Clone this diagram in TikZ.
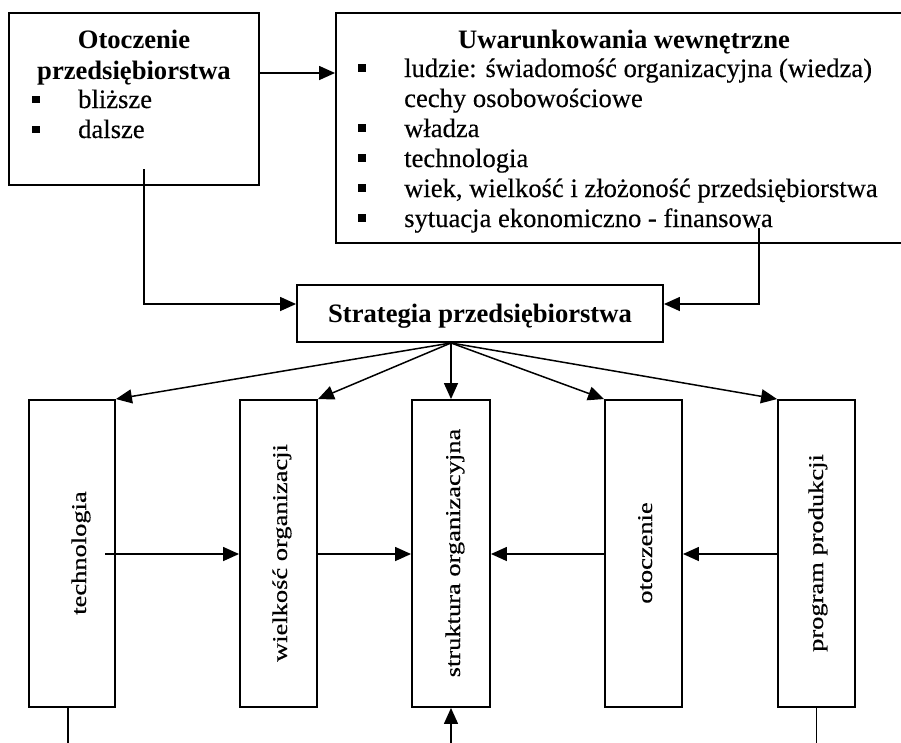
\documentclass[tikz,border=0pt]{standalone}
\usepackage{fontspec}
\setmainfont{Liberation Serif}
\newfontfamily\heavyserif{Liberation Serif}[FakeBold=0.35]
\usetikzlibrary{arrows.meta}
\tikzset{
  boxn/.style={draw, line width=1.9pt, rectangle, inner sep=0pt, fill=none},
  arr/.style={line width=1.5pt, -{Triangle[length=16pt,width=14pt]}},
  plain/.style={line width=1.5pt},
  txt/.style={inner sep=0pt, font=\heavyserif\fontsize{26.6}{30}\selectfont},
  btxt/.style={inner sep=0pt, font=\fontsize{26.6}{30}\selectfont\bfseries},
  rtxt/.style={inner sep=0pt, rotate=90, anchor=base, font=\heavyserif\fontsize{21}{24}\selectfont},
  bul/.style={fill=black, inner sep=0pt, minimum size=7.5pt, rectangle},
}
\newcommand{\rlab}[1]{\scalebox{1.26}[1]{#1}}
\begin{document}
\begin{tikzpicture}[x=1pt,y=-1pt]
\useasboundingbox (0,0) rectangle (901,742);
\clip (0,0) rectangle (901,742);
\fill[white] (0,0) rectangle (901,742);

% boxes
\node[boxn, minimum width=250pt, minimum height=172pt] (otb) at (134,99) {};
\node[boxn, minimum width=569pt, minimum height=230pt] (uwb) at (620.5,128) {};
\node[boxn, minimum width=366pt, minimum height=57pt] (strat) at (480,313.5) {};
\node[boxn, minimum width=86pt, minimum height=307pt] (tech) at (72,553.5) {};
\node[boxn, minimum width=77pt, minimum height=307pt] (wiel) at (278.5,553.5) {};
\node[boxn, minimum width=78pt, minimum height=307pt] (struk) at (451,553.5) {};
\node[boxn, minimum width=77pt, minimum height=307pt] (otoc) at (643.5,553.5) {};
\node[boxn, minimum width=77pt, minimum height=307pt] (prog) at (816.5,553.5) {};

% box 1 texts
\node[btxt, anchor=base] (ot1) at (134,48) {Otoczenie};
\node[btxt, anchor=base] (ot2) at (134,79) {przedsiębiorstwa};
\node[bul] (ob1) at (36,99.5) {};
\node[txt, anchor=base west] (ot3) at (78,108) {bliższe};
\node[bul] (ob2) at (36,129.5) {};
\node[txt, anchor=base west] (ot4) at (78,138) {dalsze};

% box 2 texts
\node[btxt, anchor=base] (uw0) at (624,48) {Uwarunkowania wewnętrzne};
\node[bul] (ub1) at (362,68) {};
\node[txt, anchor=base west] (uw1) at (404,77) {ludzie: świadomość organizacyjna (wiedza)};
\node[txt, anchor=base west] (uw2) at (404,107) {cechy osobowościowe};
\node[bul] (ub3) at (362,128) {};
\node[txt, anchor=base west] (uw3) at (404,137) {władza};
\node[bul] (ub4) at (362,158) {};
\node[txt, anchor=base west] (uw4) at (404,167) {technologia};
\node[bul] (ub5) at (362,188) {};
\node[txt, anchor=base west] (uw5) at (404,197) {wiek, wielkość i złożoność przedsiębiorstwa};
\begin{scope}
\clip (336,13) rectangle (905,233);
\node[bul] (ub6) at (362,218) {};
\node[txt, anchor=base west] (uw6) at (404,227) {sytuacja ekonomiczno - finansowa};
\end{scope}

% strategy text
\node[btxt, anchor=base] (st) at (480,322) {Strategia przedsiębiorstwa};

% rotated texts
\node[rtxt] (lt) at (86,553) {\rlab{technologia}};
\node[rtxt] (lw) at (287,553) {\rlab{wielkość organizacji}};
\node[rtxt] (ls) at (460,553) {\rlab{struktura organizacyjna}};
\node[rtxt] (lo) at (652,553) {\rlab{otoczenie}};
\node[rtxt] (lp) at (823,553) {\rlab{program produkcji}};

% helper coordinates
\coordinate (yA) at (0,73);
\coordinate (yB) at (0,304);
\coordinate (yC) at (0,554);
\coordinate (s1) at (144,169);
\coordinate (s2) at (759,228);
\coordinate (t1) at (105,554);
\coordinate (tb) at (68,745);
\coordinate (bot) at (0,745);

% connectors
\draw[arr] (otb.east |- yA) -- (uwb.west |- yA);
\draw[arr] (s1) |- (strat.west |- yB);
\draw[arr] (s2) |- (strat.east |- yB);

\coordinate (fan) at (strat.south -| struk.north);
\draw[arr] (fan) -- (tech.north east);
\draw[arr] (fan) -- (wiel.north east);
\draw[arr] (fan) -- (struk.north);
\draw[arr] (fan) -- (otoc.north west);
\draw[arr] (fan) -- (prog.north west);

\draw[arr] (t1) -- (wiel.west |- t1);
\draw[arr] (wiel.east |- yC) -- (struk.west |- yC);
\draw[arr] (otoc.west |- yC) -- (struk.east |- yC);
\draw[arr] (prog.west |- yC) -- (otoc.east |- yC);

\draw[plain] (tb |- tech.south) -- (tb);
\draw[arr] (struk.south |- bot) -- (struk.south);
\draw[plain] (prog.south) -- (prog.south |- bot);
\end{tikzpicture}
\end{document}
